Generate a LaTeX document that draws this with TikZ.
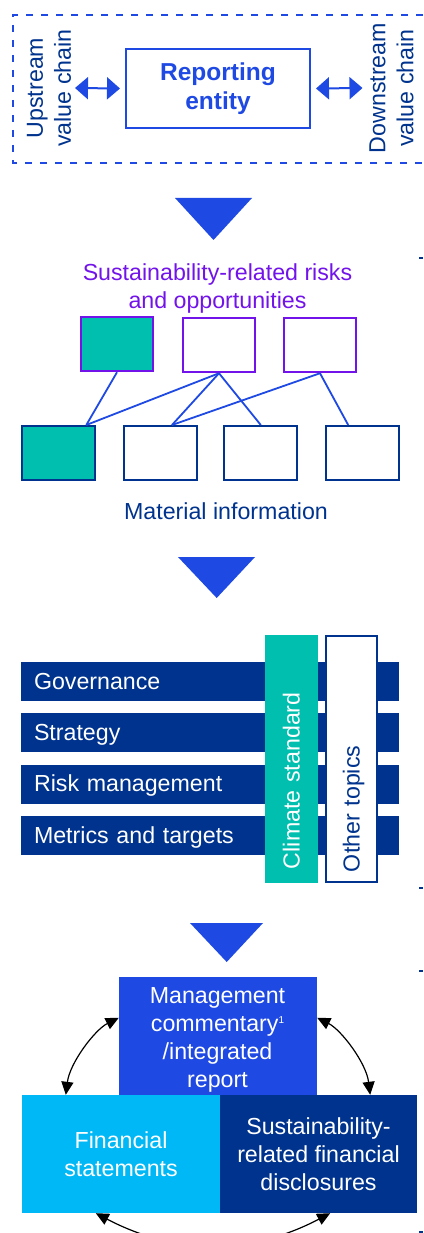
\documentclass[tikz,border=0pt]{standalone}
\usepackage{fontspec}
\setmainfont{Liberation Sans}
\usetikzlibrary{arrows.meta}
\definecolor{kblue}{HTML}{1E49E2}
\definecolor{knavy}{HTML}{00338D}
\definecolor{kteal}{HTML}{00BFAE}
\definecolor{kpurple}{HTML}{7213EA}
\definecolor{klight}{HTML}{00B8F5}
\newcommand{\smallsup}[1]{\raisebox{8pt}{\fontsize{10}{10}\selectfont #1}}
\begin{document}
\begin{tikzpicture}[x=1pt,y=-1pt,
  every node/.style={font=\fontsize{23.2}{28}\selectfont, inner sep=0pt},
  riskbox/.style={draw=kpurple, line width=2.5pt, minimum width=72pt, minimum height=54pt},
  infobox/.style={draw=knavy, line width=2pt, minimum width=73pt, minimum height=54pt},
  link/.style={draw=kblue, line width=1.8pt},
  pillar/.style={fill=knavy, text=white, minimum width=378.6pt, minimum height=39pt,
    text width=352pt, align=left, text height=17pt, text depth=2pt},
  dbl/.style={kblue, line width=2pt, {Triangle[length=13pt,width=22pt]}-{Triangle[length=13pt,width=22pt]}},
  cyc/.style={black, line width=1.2pt, {Triangle[length=13pt,width=12pt]}-{Triangle[length=13pt,width=12pt]}},
  stray/.style={knavy, line width=2pt}
]
\useasboundingbox (0,0) rectangle (423,1233);
\clip (0,0) rectangle (423,1233);

% ---- value chain ----
\draw[kblue, line width=2pt, dash pattern=on 7pt off 8pt] (423,15) -- (13,15) -- (13,163) -- (423,163);
\node[draw=kblue, line width=2pt, minimum width=184pt, minimum height=79pt, text=kblue,
  font=\fontsize{24.5}{28.4}\selectfont\bfseries, align=center] (rep) at (218,88.5) {Reporting\\entity};
\node[text=knavy, rotate=90, align=center] (ups) at (49,88) {Upstream\\value chain};
\node[text=knavy, rotate=90, align=center] (dns) at (391.5,88) {Downstream\\value chain};
\coordinate (u1) at (75,88);
\coordinate (d1) at (362.5,88);
\draw[dbl] (u1) -- ([xshift=-5pt]rep.west);
\draw[dbl] ([xshift=5pt]rep.east) -- (d1);

\fill[kblue] (175,198) -- (252,198) -- (213.5,240) -- cycle;

% ---- risks and material information ----
\node[text=kpurple, align=center] (sr) at (217.5,288.5) {Sustainability-related risks\\and opportunities};
\node[riskbox, fill=kteal] (T1) at (117,344) {};
\node[riskbox] (T2) at (219,345) {};
\node[riskbox] (T3) at (320,345) {};
\node[infobox, fill=kteal] (B1) at (58.8,453) {};
\node[infobox] (B2) at (160,453) {};
\node[infobox] (B3) at (260.8,453) {};
\node[infobox] (B4) at (362.2,453) {};
\draw[link] (T1.south) -- ([xshift=-10pt]B1.north east);
\draw[link] (T2.south) -- ([xshift=-10pt]B1.north east);
\draw[link] (T2.south) -- ([xshift=12pt]B2.north);
\draw[link] (T2.south) -- (B3.north);
\draw[link] (T3.south) -- ([xshift=12pt]B2.north);
\draw[link] (T3.south) -- ([xshift=-14pt]B4.north);
\node[text=knavy, anchor=base] (mi) at (226,519) {Material information};

\fill[kblue] (178,557) -- (255,557) -- (216.7,598) -- cycle;

% ---- pillars ----
\node[pillar] (gov) at (210,681.5) {Governance};
\node[pillar] (str) at (210,732.5) {Strategy};
\node[pillar] (rsk) at (210,784) {Risk management};
\node[pillar] (met) at (210,835.5) {Metrics and targets};
\node[fill=kteal, rotate=90, minimum width=248pt, minimum height=53pt, text=white,
  text width=220pt, align=left, text height=16.4pt, text depth=0pt] (clim) at (291.5,759) {Climate standard};
\node[draw=knavy, fill=white, line width=2pt, rotate=90, minimum width=246pt, minimum height=51pt, text=knavy,
  text width=226pt, align=left, text height=16.4pt, text depth=0pt] (oth) at (351.5,759) {Other topics};

\fill[kblue] (190,923) -- (263,923) -- (226.7,962) -- cycle;

% ---- reports ----
\node[fill=kblue, minimum width=198pt, minimum height=118pt] (mc) at (218,1036) {};
\node[text=white, align=center] (mctext) at (217.5,1039.5)
  {Management\\commentary\smallsup{1}\\/integrated\\report};
\node[fill=klight, minimum width=198pt, minimum height=118pt, text=white, align=center] (fin) at (121,1154)
  {Financial\\statements};
\node[fill=knavy, minimum width=197pt, minimum height=118pt, text=white, align=center] (sus) at (318.5,1154)
  {Sustainability-\\related financial\\disclosures};

\coordinate (la1) at ([xshift=44pt]fin.north west);
\coordinate (la2) at ([yshift=-41pt]mc.north west);
\coordinate (ra1) at ([yshift=-41pt]mc.north east);
\coordinate (ra2) at ([xshift=-47pt]sus.north east);
\coordinate (ba1) at ([xshift=74pt]fin.south west);
\coordinate (ba2) at ([xshift=-87pt]sus.south east);
\draw[cyc] (la1) .. controls +(4,-32) and +(-24,12) .. (la2);
\draw[cyc] (ra1) .. controls +(24,12) and +(-4,-32) .. (ra2);
\draw[cyc] (ba1) .. controls +(80,42) and +(-80,42) .. (ba2);

% ---- edge marks ----
\draw[stray] (419,258) -- (423,258);
\draw[stray] (419,888) -- (423,888);
\draw[stray] (419,971) -- (423,971);
\draw[stray] (419,1232) -- (423,1232);
\end{tikzpicture}
\end{document}
